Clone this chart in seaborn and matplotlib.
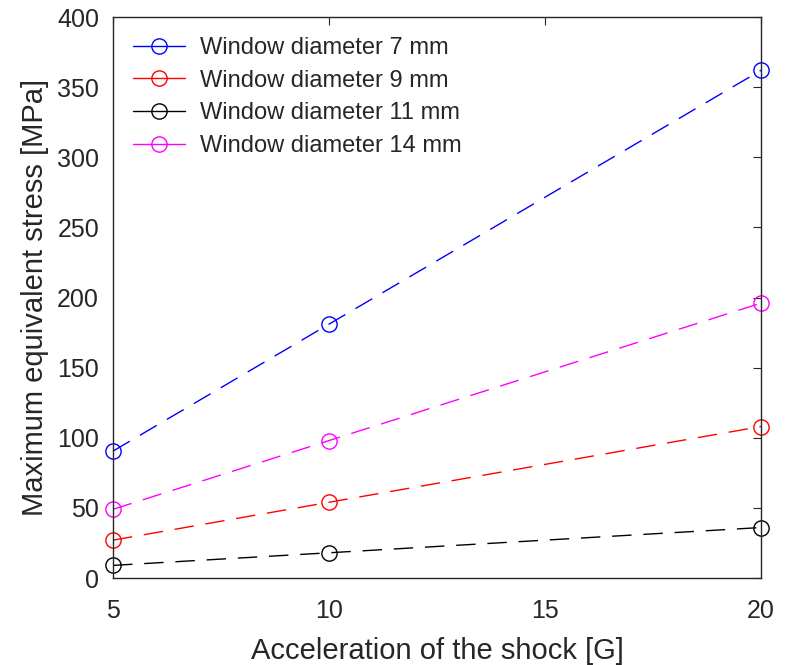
import numpy as np
import pandas as pd
import matplotlib
matplotlib.use("Agg")
import matplotlib.pyplot as plt
from matplotlib.lines import Line2D
import seaborn as sns

# --- veri ---
acceleration = [5, 10, 20]
stress_7mm = [90.5, 181, 362]
stress_9mm = [27, 54, 108]
stress_11mm = [9, 18, 36]
stress_14mm = [49, 98, 196]
series_labels = ["Window diameter 7 mm", "Window diameter 9 mm",
                 "Window diameter 11 mm", "Window diameter 14 mm"]
series_colors = ["#0000ff", "#ff0000", "#000000", "#ff00ff"]
x_ticks = [5, 10, 15, 20]
y_ticks = list(range(0, 401, 50))

sns.set_style("white")
plt.rcParams['font.family'] = ['Liberation Sans', 'DejaVu Sans']

fig = plt.figure(figsize=(7.88, 6.65), dpi=100)
ax = fig.add_axes([0.1434, 0.1308, 0.8223, 0.8436])

all_series = [stress_7mm, stress_9mm, stress_11mm, stress_14mm]
handles = []
for vals, lab, col in zip(all_series, series_labels, series_colors):
    sns.lineplot(x=acceleration, y=vals, ax=ax, color=col, linestyle=(0, (14, 8.5)),
                 linewidth=1.0, marker='o', markersize=11, markerfacecolor='none',
                 markeredgecolor=col, markeredgewidth=1.0, clip_on=False)
    # legend'da cizgiler duz gorunuyor
    handles.append(Line2D([], [], color=col, linewidth=1.0, marker='o', markersize=11,
                          markerfacecolor='none', markeredgecolor=col))

ax.set_xlim(5, 20)
ax.set_ylim(0, 400)
ax.set_xticks(x_ticks)
ax.set_yticks(y_ticks)
ax.tick_params(direction='in', length=6, width=0.8, top=True, right=True,
               labelsize=18, colors='#262626')
ax.tick_params(axis='x', pad=15)
ax.tick_params(axis='y', pad=10)
for s in ax.spines.values():
    s.set_color('#262626')
    s.set_linewidth(1.0)

ax.set_xlabel('Acceleration of the shock [G]', fontsize=21, color='#262626', labelpad=10)
ax.set_ylabel('Maximum equivalent stress [MPa]', fontsize=21, color='#262626', labelpad=6)

ax.legend(handles, series_labels, loc='upper left', frameon=False, fontsize=17,
          handlelength=2.2, handletextpad=0.65, labelspacing=0.45, borderaxespad=0.45)

plt.savefig('out.png', dpi=100)
